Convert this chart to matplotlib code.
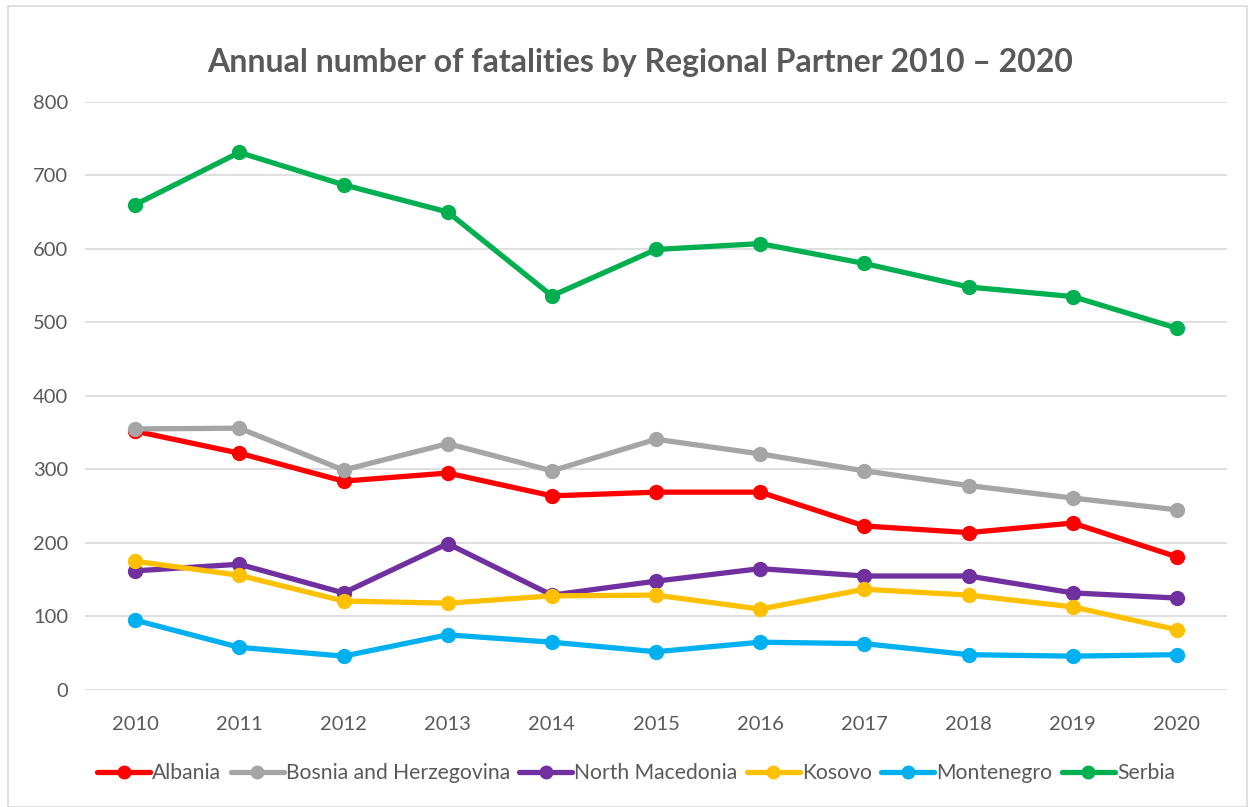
import matplotlib
matplotlib.use('Agg')
import matplotlib.pyplot as plt
from matplotlib.patches import Rectangle

plt.rcParams['font.family'] = ['Lato', 'DejaVu Sans']

years = ['2010', '2011', '2012', '2013', '2014', '2015', '2016', '2017', '2018', '2019', '2020']

albania = [352, 322, 284, 295, 264, 269, 269, 223, 214, 227, 181]
bosnia = [355, 356, 299, 335, 298, 341, 321, 298, 278, 261, 245]
north_macedonia = [162, 171, 132, 199, 129, 148, 165, 155, 155, 132, 125]
kosovo = [175, 156, 121, 118, 128, 129, 110, 137, 129, 113, 82]
montenegro = [95, 58, 46, 75, 65, 52, 65, 63, 48, 46, 48]
serbia = [660, 731, 687, 650, 536, 599, 607, 580, 548, 535, 492]

series = [
    ('Albania', albania, '#FF0000'),
    ('Bosnia and Herzegovina', bosnia, '#A5A5A5'),
    ('North Macedonia', north_macedonia, '#7030A0'),
    ('Kosovo', kosovo, '#FFC000'),
    ('Montenegro', montenegro, '#00B0F0'),
    ('Serbia', serbia, '#00B050'),
]

fig = plt.figure(figsize=(12.52, 8.07), dpi=100)
ax = fig.add_axes([0.068, 0.145, 0.912, 0.729])

# chart border
fig.patches.append(Rectangle((0.006, 0.0), 0.99, 0.992, transform=fig.transFigure,
                             fill=False, edgecolor='#D9D9D9', linewidth=1.2))

x = list(range(len(years)))
for name, vals, col in series:
    ax.plot(x, vals, color=col, linewidth=3.8, marker='o', markersize=10,
            label=name, solid_capstyle='round')

ax.set_xlim(-0.48, 10.48)
ax.set_ylim(0, 800)
ax.set_yticks(range(0, 801, 100))
ax.set_xticks(x)
ax.set_xticklabels(years)
ax.grid(axis='y', color='#D9D9D9', linewidth=1.2)
ax.set_axisbelow(True)
for s in ax.spines.values():
    s.set_visible(False)
ax.tick_params(length=0, labelsize=14.5, colors='#595959')
ax.tick_params(axis='x', pad=19)
ax.tick_params(axis='y', pad=12)

fig.text(0.511, 0.922, 'Annual number of fatalities by Regional Partner 2010 \u2013 2020',
         ha='center', va='center', fontsize=23, fontweight='bold', color='#595959')

leg = ax.legend(loc='center', bbox_to_anchor=(0.508, 0.042), bbox_transform=fig.transFigure,
                ncol=6, frameon=False, fontsize=15.2, handlelength=2.5, handletextpad=0.1,
                columnspacing=0.45, markerscale=0.9)
for t in leg.get_texts():
    t.set_color('#595959')

fig.savefig('out.png', dpi=100)
